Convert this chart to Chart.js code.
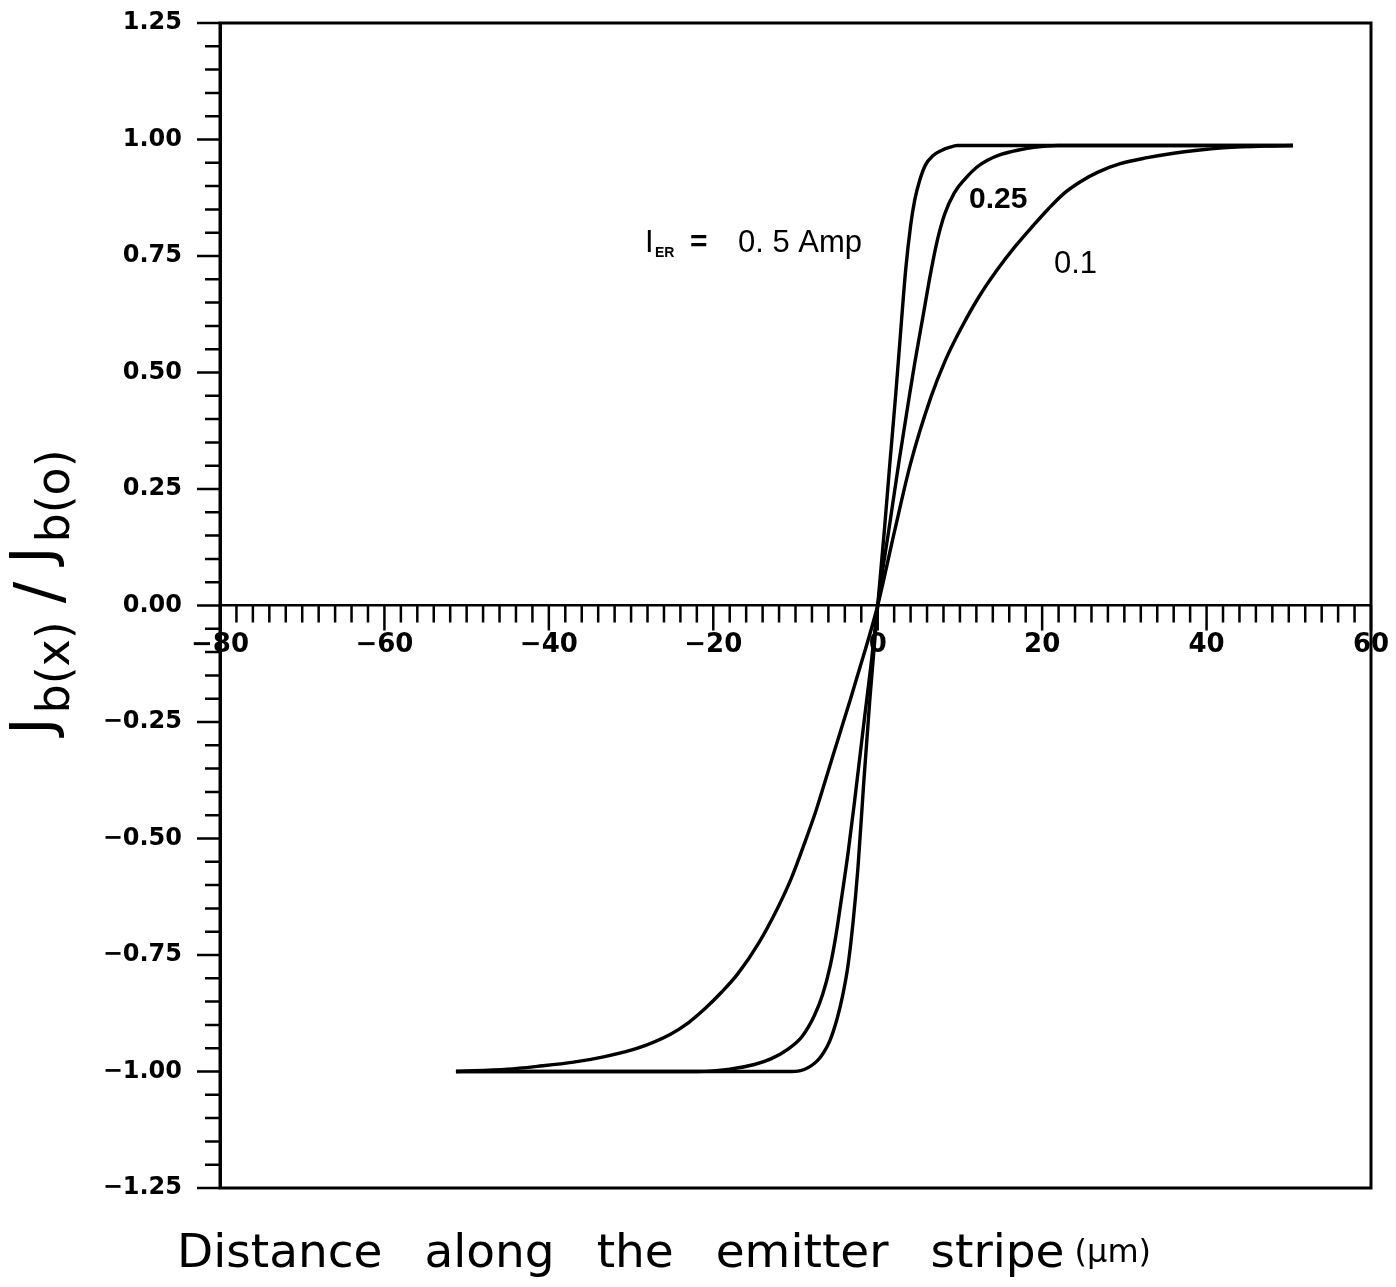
<!DOCTYPE html>
<html>
<head>
<meta charset="utf-8">
<script src="https://cdn.jsdelivr.net/npm/chart.js@4.4.0/dist/chart.umd.min.js"></script>
<style>
  html, body { margin: 0; padding: 0; background: #fff; }
  #wrap { width: 1396px; height: 1287px; }
</style>
</head>
<body>
<div id="wrap"><canvas id="c" width="1396" height="1287"></canvas></div>
<script>
// tick values
const xTicks = [-80, -60, -40, -20, 0, 20, 40, 60];
const yTicks = [-1.25, -1.0, -0.75, -0.5, -0.25, 0, 0.25, 0.5, 0.75, 1.0, 1.25];

// steepest curve (unlabelled, I_ER = 0.5 A)
const xSteep = [-51.3, -20, -11, -9.4, -8.3, -7.3, -6.6, -5.8, -4.9, -4.3, -3.65, -3.0, -2.4, -1.7, -0.97, 0, 0.85, 1.5, 2.2, 2.8, 3.4, 4.0, 4.5, 5.1, 5.8, 6.7, 7.7, 8.7, 9.7, 20, 50.5];
const ySteep = [-1.0, -1.0, -1.0, -0.998, -0.99, -0.976, -0.96, -0.933, -0.884, -0.84, -0.777, -0.68, -0.562, -0.38, -0.204, 0, 0.17, 0.31, 0.455, 0.59, 0.72, 0.815, 0.87, 0.912, 0.945, 0.965, 0.976, 0.983, 0.987, 0.987, 0.987];

// middle curve (0.25)
const xMid = [-51.3, -30, -21.9, -18, -15, -13, -10.9, -9.2, -7.7, -6.7, -5.8, -5.1, -4.5, -3.6, -2.8, -1.6, -0.8, 0, 1.46, 2.6, 3.9, 4.5, 5.2, 5.8, 6.4, 7.2, 8.15, 9.3, 10.6, 12, 13.4, 15, 17.0, 19, 21.9, 35, 50.5];
const yMid = [-1.0, -1.0, -1.0, -0.995, -0.985, -0.973, -0.952, -0.925, -0.88, -0.835, -0.775, -0.71, -0.64, -0.53, -0.418, -0.24, -0.125, 0, 0.175, 0.31, 0.455, 0.52, 0.59, 0.65, 0.71, 0.78, 0.84, 0.885, 0.915, 0.94, 0.956, 0.968, 0.977, 0.983, 0.987, 0.987, 0.987];

// shallow curve (0.1)
const xLow = [-51.3, -45, -41.4, -37, -33.2, -29.2, -25.2, -23, -21, -19, -17, -14.5, -12.2, -10.5, -8.9, -7.5, -6.1, -4.7, -3.3, -1.6, 0, 2.07, 4.0, 6.45, 8.2, 10.0, 12.3, 14.6, 16.7, 18.9, 20.8, 22.7, 24.7, 26.8, 29.5, 32.8, 35.8, 38.9, 42, 47.1, 50.5];
const yLow = [-1.0, -0.995, -0.989, -0.98, -0.968, -0.95, -0.92, -0.895, -0.865, -0.83, -0.79, -0.725, -0.65, -0.585, -0.51, -0.44, -0.36, -0.28, -0.2, -0.1, 0, 0.161, 0.305, 0.446, 0.525, 0.59, 0.662, 0.722, 0.77, 0.815, 0.852, 0.885, 0.91, 0.93, 0.948, 0.961, 0.97, 0.977, 0.982, 0.986, 0.987];

const ink = '#000';

function pts(xs, ys) {
  return xs.map((x, i) => ({ x: x, y: ys[i] }));
}

function fmtY(v) {
  const s = Math.abs(v).toFixed(2);
  return v < 0 ? '\u2212' + s : s;
}
function fmtX(v) {
  return v < 0 ? '\u2212' + Math.abs(v) : String(v);
}

const curve = {
  borderColor: ink,
  borderWidth: 3.4,
  pointRadius: 0,
  fill: false,
  cubicInterpolationMode: 'monotone'
};

// frame, minor ticks and the free text of the old plot
const decor = {
  id: 'decor',
  afterDraw(chart) {
    const ctx = chart.ctx;
    const a = chart.chartArea;
    const xs = chart.scales.x, ys = chart.scales.y;
    ctx.save();
    ctx.strokeStyle = ink;
    ctx.lineWidth = 3;
    ctx.strokeRect(a.left, a.top, a.right - a.left, a.bottom - a.top);

    // x ticks hang below the zero line
    const y0 = ys.getPixelForValue(0);
    ctx.lineWidth = 2.5;
    ctx.beginPath();
    ctx.moveTo(a.left - 18, y0);
    ctx.lineTo(a.left, y0);
    for (let i = -40; i <= 30; i++) {
      const px = xs.getPixelForValue(i * 2);
      const len = (i % 10 === 0) ? 25 : 17;
      ctx.moveTo(px, y0);
      ctx.lineTo(px, y0 + len);
    }
    // y ticks point outward to the left
    for (let j = -25; j <= 25; j++) {
      const py = ys.getPixelForValue(j * 0.05);
      const len = (j % 5 === 0) ? 23 : 15;
      ctx.moveTo(a.left, py);
      ctx.lineTo(a.left - len, py);
    }
    ctx.stroke();

    ctx.fillStyle = ink;
    ctx.textBaseline = 'alphabetic';

    // annotation
    ctx.font = '31px "Liberation Sans"';
    ctx.fillText('I', 645, 252);
    ctx.font = 'bold 14px "Liberation Sans"';
    ctx.fillText('ER', 655, 257);
    ctx.font = 'bold 30px "Liberation Sans"';
    ctx.fillText('=', 690, 251);
    ctx.font = '31px "Liberation Sans"';
    ctx.fillText('0. 5 Amp', 738, 252);
    ctx.font = 'bold 30px "Liberation Sans"';
    ctx.fillText('0.25', 969, 208);
    ctx.font = '31px "Liberation Sans"';
    ctx.fillText('0.1', 1054, 273);

    // x title
    ctx.font = '47px "DejaVu Sans"';
    if ('wordSpacing' in ctx) ctx.wordSpacing = '27px';
    ctx.fillText('Distance along the emitter stripe', 177, 1267);
    const w = ctx.measureText('Distance along the emitter stripe').width;
    if ('wordSpacing' in ctx) ctx.wordSpacing = '0px';
    ctx.font = '32px "DejaVu Sans"';
    ctx.fillText('(\u03bcm)', 177 + w + 10, 1262);

    // y title, rotated
    ctx.translate(52, 592);
    ctx.rotate(-Math.PI / 2);
    const parts = [
      ['J', '58px "DejaVu Sans"', 0],
      ['b(x)', '46px "DejaVu Sans"', 17],
      ['/', '64px "DejaVu Sans"', 8],
      ['J', '58px "DejaVu Sans"', 0],
      ['b(o)', '46px "DejaVu Sans"', 17]
    ];
    const gaps = [4, 18, 18, 4, 0];
    let total = 0;
    parts.forEach((p, i) => { ctx.font = p[1]; total += ctx.measureText(p[0]).width + gaps[i]; });
    let cx = -total / 2;
    parts.forEach((p, i) => {
      ctx.font = p[1];
      ctx.fillText(p[0], cx, p[2]);
      cx += ctx.measureText(p[0]).width + gaps[i];
    });
    ctx.restore();
  }
};

new Chart(document.getElementById('c'), {
  type: 'line',
  data: {
    datasets: [
      Object.assign({ label: '0.5', data: pts(xSteep, ySteep) }, curve),
      Object.assign({ label: '0.25', data: pts(xMid, yMid) }, curve),
      Object.assign({ label: '0.1', data: pts(xLow, yLow) }, curve)
    ]
  },
  options: {
    responsive: false,
    animation: false,
    layout: { padding: { top: 23, right: 25, bottom: 99, left: 0 } },
    plugins: { legend: { display: false }, tooltip: { enabled: false } },
    scales: {
      x: {
        type: 'linear',
        position: { y: 0 },
        min: -80,
        max: 60,
        afterBuildTicks: s => { s.ticks = xTicks.map(v => ({ value: v })); },
        afterFit: s => { s.paddingLeft = 0; s.paddingRight = 0; s.paddingTop = 0; s.paddingBottom = 0; },
        grid: { display: true, drawOnChartArea: false, drawTicks: false },
        border: { display: true, color: ink, width: 2.5 },
        ticks: {
          autoSkip: false,
          maxRotation: 0,
          padding: 24,
          color: ink,
          font: { family: 'DejaVu Sans', size: 26, weight: 'bold' },
          callback: v => fmtX(v)
        }
      },
      y: {
        type: 'linear',
        min: -1.25,
        max: 1.25,
        afterBuildTicks: s => { s.ticks = yTicks.map(v => ({ value: v })); },
        afterFit: s => { s.width = 220; s.paddingTop = 0; s.paddingBottom = 0; s.paddingLeft = 0; s.paddingRight = 0; },
        grid: { display: true, drawOnChartArea: false, drawTicks: false },
        border: { display: true, color: ink, width: 3 },
        ticks: {
          padding: 38,
          color: ink,
          font: { family: 'DejaVu Sans', size: 24, weight: 'bold' },
          callback: v => fmtY(v)
        }
      }
    }
  },
  plugins: [decor]
});
</script>
</body>
</html>
